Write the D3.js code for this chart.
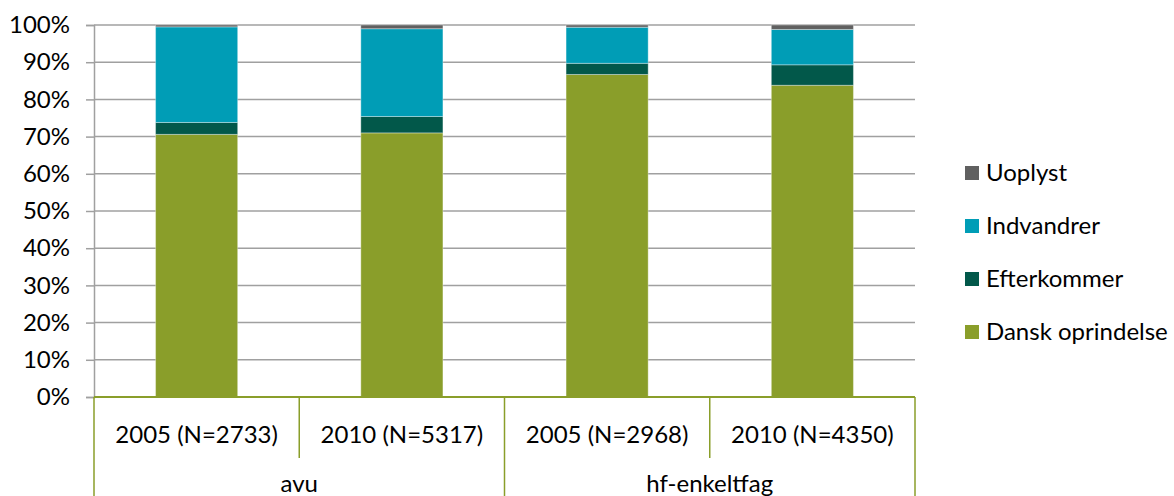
<!DOCTYPE html>
<html><head><meta charset="utf-8">
<script src="https://cdn.jsdelivr.net/npm/d3@7"></script>
<style>body{margin:0;background:#fff}svg{display:block}text{font-family:Lato,"Open Sans",sans-serif;fill:#000}</style>
</head><body><svg id="c" width="1174" height="496"></svg>
<script>
const categories = ["2005 (N=2733)", "2010 (N=5317)", "2005 (N=2968)", "2010 (N=4350)"];
const groups = ["avu", "avu", "hf-enkeltfag", "hf-enkeltfag"];
const seriesNames = ["Dansk oprindelse", "Efterkommer", "Indvandrer", "Uoplyst"];
const dansk = [70.6, 71.0, 86.7, 83.8];
const efterkommer = [3.2, 4.4, 3.0, 5.5];
const indvandrer = [25.7, 23.6, 9.7, 9.5];
const uoplyst = [0.5, 1.0, 0.6, 1.2];
const yTicks = [0, 10, 20, 30, 40, 50, 60, 70, 80, 90, 100];
const colors = ["#8a9e2a", "#02584a", "#009db6", "#606060"];

const FS = "24px";
const svg = d3.select("#c");
const L = 94, R = 915, T = 25, B = 397;
const x = d3.scaleBand().domain(categories).range([L, R]).paddingInner(0).paddingOuter(0);
const y = d3.scaleLinear().domain([0, 100]).range([B, T]);

// gridlines
svg.append("g").selectAll("line").data(yTicks.filter(d => d > 0)).join("line")
  .attr("x1", L).attr("x2", R).attr("y1", d => y(d)).attr("y2", d => y(d))
  .attr("stroke", "#a0a0a0").attr("stroke-width", 1.5);

// y axis
const yAxis = d3.axisLeft(y).tickValues(yTicks).tickFormat(d => d + "%").tickSize(8).tickPadding(16);
const ga = svg.append("g").attr("transform", `translate(${L},0)`).call(yAxis);
ga.select(".domain").attr("stroke", "#a0a0a0").attr("stroke-width", 1.5);
ga.selectAll(".tick line").attr("stroke", "#a0a0a0").attr("stroke-width", 1.5);
ga.selectAll(".tick text").style("font-size", FS).style("font-family", "Lato").attr("fill", "#000");

// stacked bars
const rows = categories.map((c, i) => ({cat: c, "Dansk oprindelse": dansk[i], "Efterkommer": efterkommer[i], "Indvandrer": indvandrer[i], "Uoplyst": uoplyst[i]}));
const stack = d3.stack().keys(seriesNames)(rows);
const bw = x.bandwidth() * 0.4;
svg.append("g").selectAll("g").data(stack).join("g").attr("fill", (d, i) => colors[i])
  .selectAll("rect").data(d => d).join("rect")
  .attr("x", d => x(d.data.cat) + (x.bandwidth() - bw) / 2)
  .attr("width", bw)
  .attr("y", d => y(d[1]))
  .attr("height", d => y(d[0]) - y(d[1]))
  .attr("stroke", "rgba(255,255,255,0.35)").attr("stroke-width", 1);

// category axis (two-level)
const axisColor = "#8a9e2a";
const ax = svg.append("g");
ax.append("line").attr("x1", L).attr("x2", R).attr("y1", B).attr("y2", B).attr("stroke", axisColor).attr("stroke-width", 2);
categories.forEach((c, i) => {
  if (i > 0 && groups[i] === groups[i - 1]) {
    ax.append("line").attr("x1", x(c)).attr("x2", x(c)).attr("y1", B).attr("y2", 458).attr("stroke", axisColor).attr("stroke-width", 1.5);
  }
});
const groupNames = Array.from(new Set(groups));
const groupExtent = groupNames.map(g => {
  const idx = groups.map((v, i) => v === g ? i : -1).filter(i => i >= 0);
  return {g, x0: x(categories[idx[0]]), x1: x(categories[idx[idx.length - 1]]) + x.bandwidth()};
});
const bounds = [groupExtent[0].x0].concat(groupExtent.map(e => e.x1));
ax.selectAll("line.gb").data(bounds).join("line").attr("class", "gb")
  .attr("x1", d => d).attr("x2", d => d).attr("y1", B).attr("y2", 496)
  .attr("stroke", axisColor).attr("stroke-width", 1.5);
ax.selectAll("text.cat").data(categories).join("text").attr("class", "cat")
  .attr("x", d => x(d) + x.bandwidth() / 2).attr("y", 435).attr("dy", "0.35em")
  .attr("text-anchor", "middle").style("font-size", FS).text(d => d);
ax.selectAll("text.grp").data(groupExtent).join("text").attr("class", "grp")
  .attr("x", d => (d.x0 + d.x1) / 2).attr("y", 484).attr("dy", "0.35em")
  .attr("text-anchor", "middle").style("font-size", FS).text(d => d.g);

// legend
const legendOrder = seriesNames.slice().reverse();
const lg = svg.append("g").selectAll("g").data(legendOrder).join("g")
  .attr("transform", (d, i) => `translate(965,${173 + i * 53})`);
lg.append("rect").attr("x", 0).attr("y", -7).attr("width", 14).attr("height", 14)
  .attr("fill", d => colors[seriesNames.indexOf(d)]);
lg.append("text").attr("x", 21).attr("y", 0).attr("dy", "0.35em").style("font-size", FS).text(d => d);
</script></body></html>
